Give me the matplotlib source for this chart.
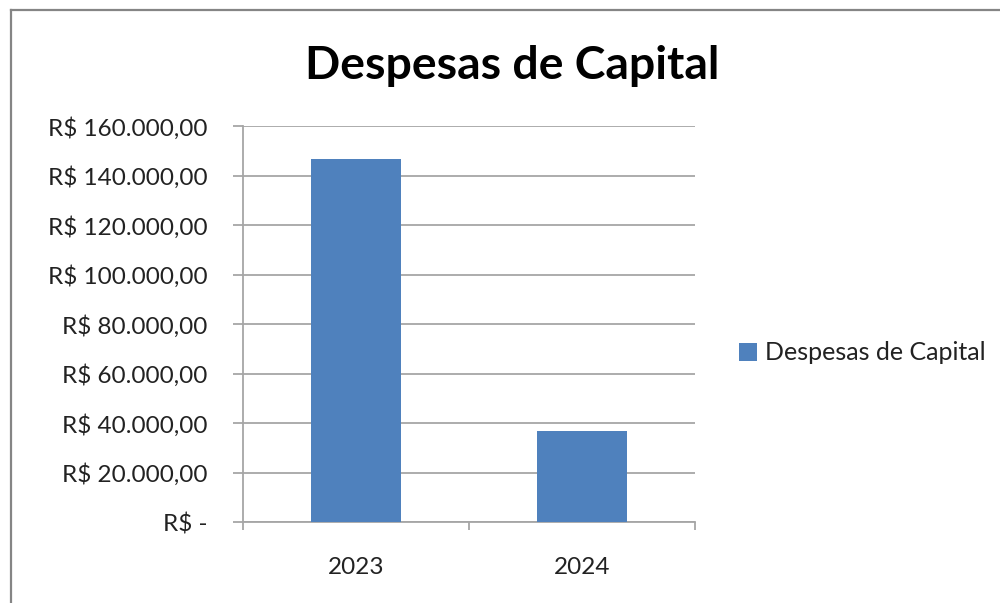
import matplotlib
matplotlib.use("Agg")
import matplotlib.pyplot as plt
from matplotlib.lines import Line2D
from matplotlib.patches import Patch

categories = ["2023", "2024"]
values = [146800, 37000]
yticks = [0, 20000, 40000, 60000, 80000, 100000, 120000, 140000, 160000]
ytick_labels = ["R$ -", "R$ 20.000,00", "R$ 40.000,00", "R$ 60.000,00", "R$ 80.000,00",
                "R$ 100.000,00", "R$ 120.000,00", "R$ 140.000,00", "R$ 160.000,00"]
series_name = "Despesas de Capital"
title = "Despesas de Capital"

plt.rcParams['font.family'] = ['Lato', 'DejaVu Sans']

fig = plt.figure(figsize=(10, 6.03), dpi=100)
W, H = 1000, 603
ax = fig.add_axes([243 / W, 1 - 522.3 / H, (695 - 243) / W, (522.3 - 126.3) / H])

bar_color = "#4F81BD"
grid_color = "#A6A6A6"
text_color = "#222222"
x = list(range(len(categories)))
ax.bar(x, values, width=0.4, color=bar_color, zorder=3)
ax.set_xlim(-0.5, len(categories) - 0.5)
ax.set_ylim(0, 160000)
ax.set_yticks(yticks)
ax.set_yticklabels(ytick_labels)
ax.yaxis.grid(True, color=grid_color, linewidth=1.3, zorder=0)
ax.set_axisbelow(True)

ax.set_xticks(x)
ax.set_xticklabels(categories)
ax.set_xticks([-0.5, 0.5, 1.5], minor=True)
ax.tick_params(axis='x', which='major', length=0, pad=25, labelsize=17.5, labelcolor=text_color)
ax.tick_params(axis='x', which='minor', length=6, width=1.3, color=grid_color, direction='out')
ax.tick_params(axis='y', length=7, width=1.3, color=grid_color, pad=18.5, labelsize=17.5,
               labelcolor=text_color)

for s in ["top", "right"]:
    ax.spines[s].set_visible(False)
for s in ["left", "bottom"]:
    ax.spines[s].set_color(grid_color)
    ax.spines[s].set_linewidth(1.3)

fig.text(512.5 / W, 1 - 66 / H, title, ha='center', va='center', fontsize=33.4,
         fontweight='bold', color='black')

handles = [Patch(facecolor=bar_color, edgecolor='none')]
fig.legend(handles, [series_name], loc='center left', bbox_to_anchor=(716 / W, 1 - 353 / H),
           frameon=False, fontsize=18.0, handlelength=0.75, handleheight=0.75, handletextpad=0.3,
           labelcolor=text_color)

# outer chart frame (left and top edges visible)
fig.add_artist(Line2D([10.5 / W, 10.5 / W], [0, 1 - 9.5 / H], transform=fig.transFigure,
                      color="#858585", linewidth=1.6))
fig.add_artist(Line2D([10.5 / W, 1], [1 - 9.5 / H, 1 - 9.5 / H], transform=fig.transFigure,
                      color="#858585", linewidth=1.6))

fig.savefig("out.png", dpi=100, facecolor="white")
